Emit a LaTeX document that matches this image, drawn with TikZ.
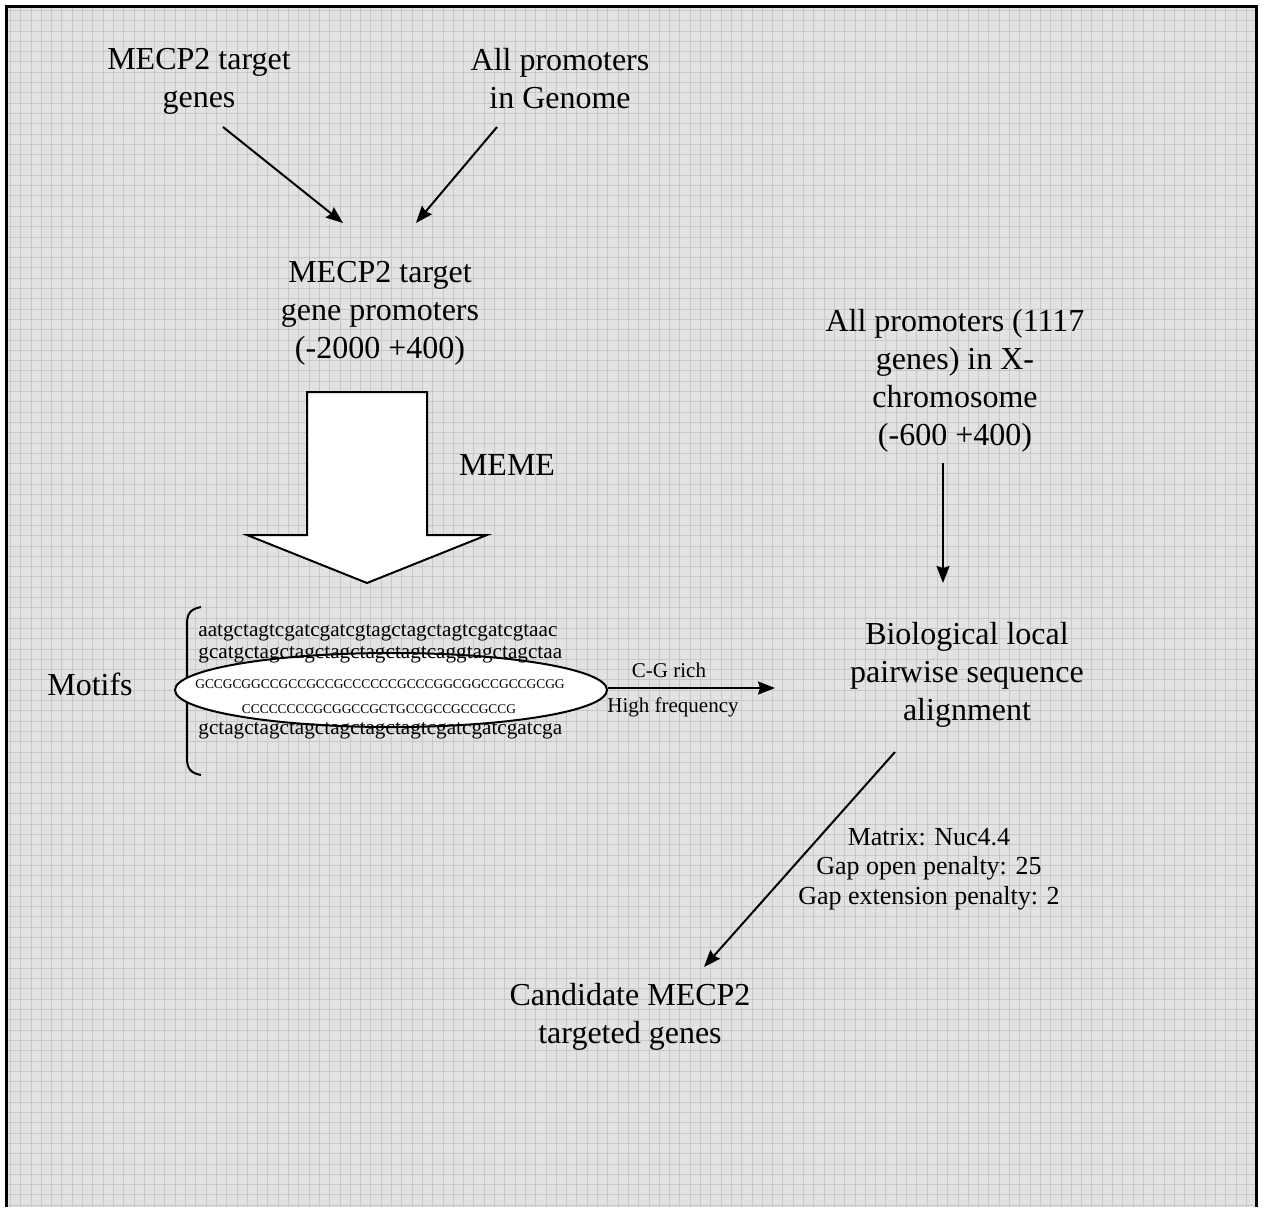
\documentclass[tikz,border=0pt]{standalone}
\usepackage{fontspec}
\setmainfont{Liberation Serif}
\usetikzlibrary{arrows.meta,shapes.geometric}
\definecolor{paper}{HTML}{E2E2E2}
\definecolor{rule}{HTML}{C8C8C8}
\tikzset{
  txt/.style={align=center,inner sep=0pt,font=\fontsize{16}{19}\selectfont},
  small/.style={align=center,inner sep=0pt,font=\fontsize{10.5}{12}\selectfont},
  seq/.style={anchor=west,inner sep=0pt,font=\fontsize{10.6}{12}\selectfont},
  caps/.style={inner sep=0pt,font=\fontsize{6.7}{8}\selectfont},
  arr/.style={line width=1pt,-{Stealth[length=8.5pt,width=6.5pt,inset=1pt]}}
}
\begin{document}
\begin{tikzpicture}[x=0.5pt,y=-0.5pt]
\useasboundingbox(0,0)rectangle(1266,1207);
\fill[paper](7,7)rectangle(1256,1207);
\draw[rule,line width=0.4pt,step=5.15pt](7,7)grid(1256,1207);
\draw[line width=1.1pt](6.5,1207)--(6.5,6.5)--(1256.5,6.5)--(1256.5,1207);
%
\node[txt](genes)at(199,81){MECP2 target\\genes};
\node[txt](allprom)at(560,79){All promoters\\in Genome};
\node[txt](targprom)at(380,313){MECP2 target\\gene promoters\\(-2000 +400)};
\node[txt](meme)at(507,465){MEME};
\node[txt](xprom)at(955,381){All promoters (1117\\genes) in X-\\chromosome\\(-600 +400)};
\node[txt](align)at(967,675){Biological local\\pairwise sequence\\alignment};
\node[txt](motifs)at(90,684){Motifs};
\node[txt](cand)at(630,1017){Candidate MECP2\\targeted genes};
\node[align=center,inner sep=0pt,font=\fontsize{13}{14.75}\selectfont](score)at(929,869){Matrix: Nuc4.4\\Gap open penalty: 25\\Gap extension penalty: 2};
%
\coordinate(ga)at(223,127);\coordinate(gb)at(343,223);
\coordinate(pa)at(497,127);\coordinate(pb)at(416,223);
\coordinate(xa)at(943,463);\coordinate(xb)at(943,583);
\coordinate(la)at(895,752);\coordinate(lb)at(704,967);
\coordinate(mb)at(775,688);
\draw[arr](ga)--(gb);
\draw[arr](pa)--(pb);
\draw[arr](xa)--(xb);
\draw[arr](la)--(lb);
%
\draw[line width=1pt,fill=white](307,392)--(427,392)--(427,535)--(487,535)--(367,583)--(247,535)--(307,535)--cycle;
%
\draw[line width=1pt](201,607)..controls(190,609)and(187,614)..(187,624)--(187,758)..controls(187,768)and(190,773)..(201,775);
\node[draw,line width=1pt,fill=white,ellipse,minimum width=216pt,minimum height=37pt,inner sep=0pt](oval)at(391,690){};
\node[seq](seqa)at(198,633){aatgctagtcgatcgatcgtagctagctagtcgatcgtaac};
\node[seq](seqb)at(198,655){gcatgctagctagctagctagctagtcaggtagctagctaa};
\node[caps](cga)at(380,684){GCCGCGGCCGCCGCCGCCCCCCGCCCGGCGGCCGCCGCGG};
\node[caps](cgb)at(379,709){CCCCCCCCGCGGCCGCTGCCGCCGCCGCCG};
\node[seq](seqc)at(198,731){gctagctagctagctagctagctagtcgatcgatcgatcga};
%
\draw[arr](oval.east|-mb)--(mb);
\node[small](cgrich)at(669,670){C-G rich};
\node[small](hifreq)at(673,707){High frequency};
\end{tikzpicture}
\end{document}
